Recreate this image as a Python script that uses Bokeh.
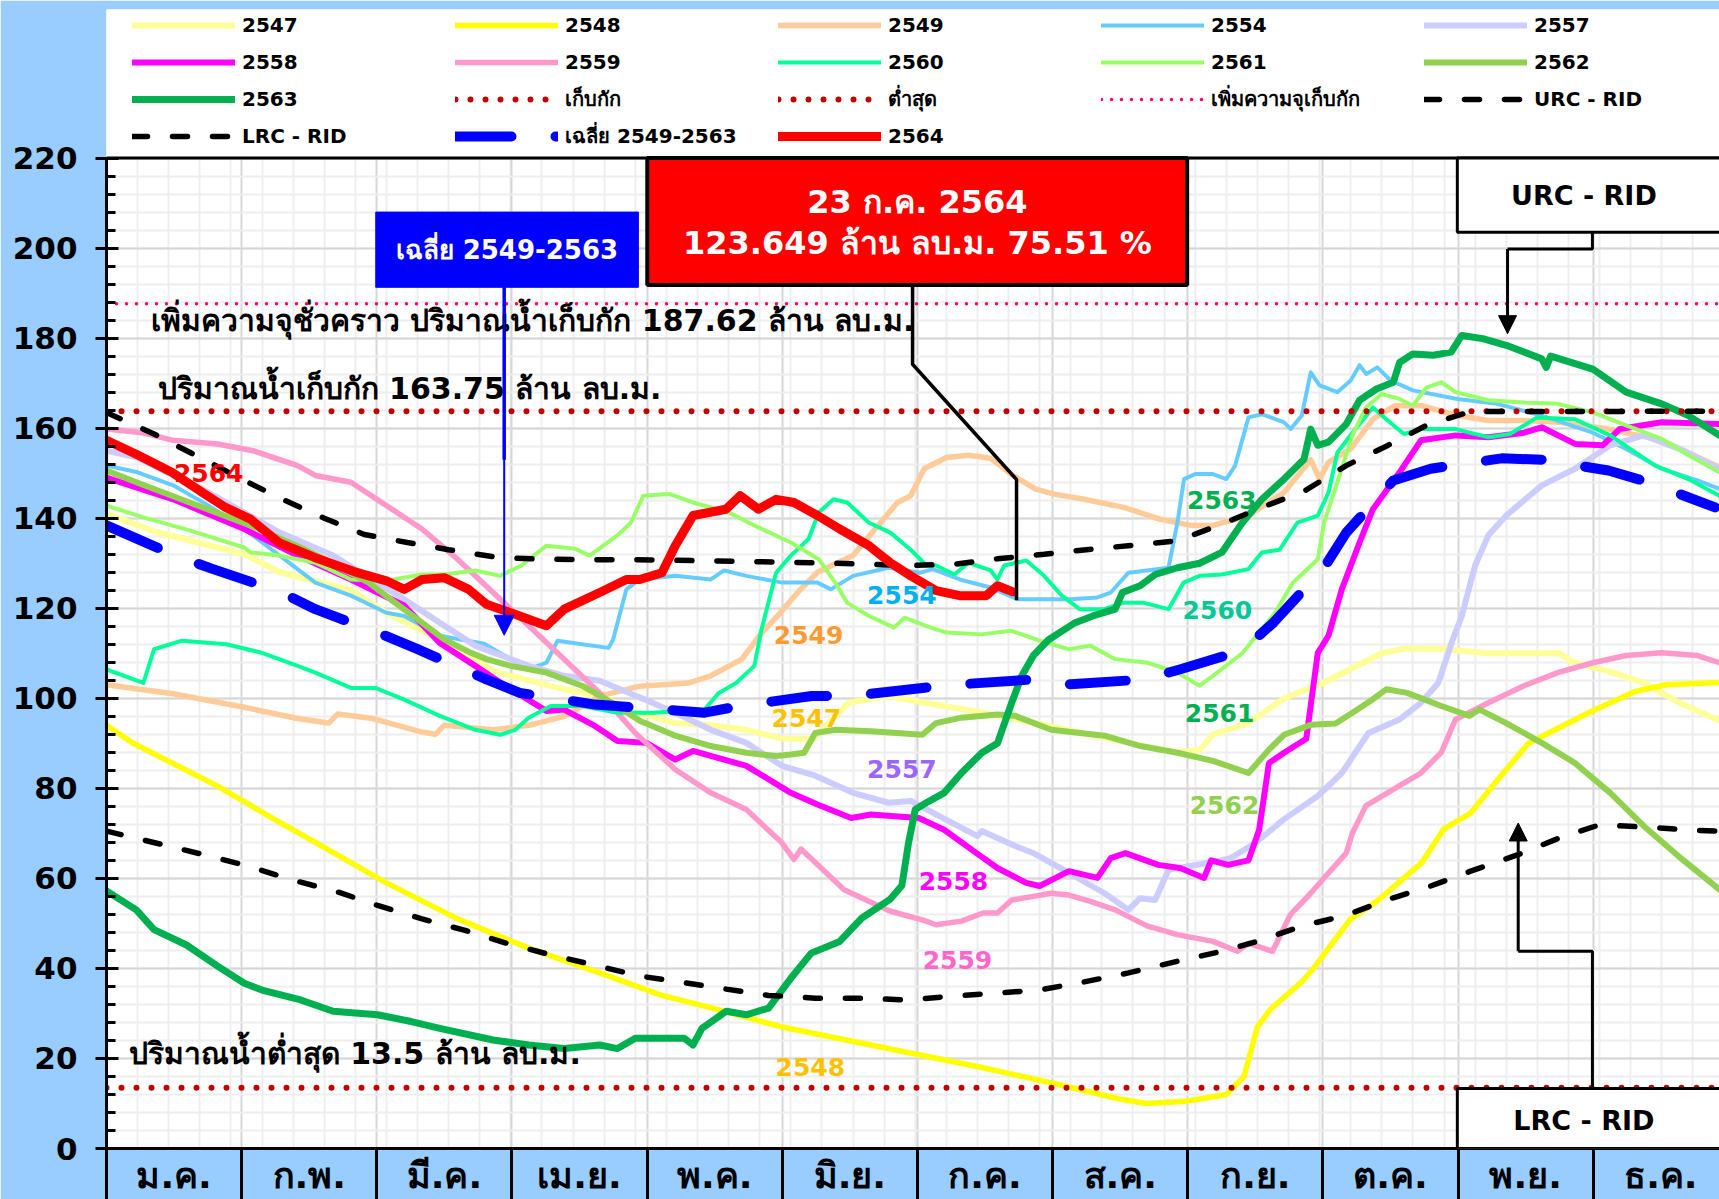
from bokeh.plotting import figure
from bokeh.models import (Range1d, FixedTicker, Legend, LegendItem, BoxAnnotation,
                          Label, Arrow, NormalHead, Span)
from bokeh.embed import file_html
from bokeh.resources import INLINE

# ---------------- data ----------------
MONTH = 365 / 12
months = ["ม.ค.", "ก.พ.", "มี.ค.", "เม.ย.", "พ.ค.", "มิ.ย.", "ก.ค.", "ส.ค.", "ก.ย.", "ต.ค.", "พ.ย.", "ธ.ค."]
y_ticks = list(range(0, 221, 20))

storage_cap = 163.75       # เก็บกัก
min_cap = 13.5             # ต่ำสุด
extra_cap = 187.62         # เพิ่มความจุเก็บกัก

x2547 = [0, 11, 23, 31, 39, 43, 55, 63, 71, 79, 87, 95, 103, 111, 119, 128, 136, 144, 152, 159, 164, 167, 176, 184, 196, 209, 221, 233, 241, 246, 249, 257, 265, 274, 280, 287, 292, 300, 311, 319, 327, 330, 338, 346, 354, 363]
y2547 = [141, 137, 134, 132, 128, 127, 124, 119, 115, 111, 106, 104, 102, 100.5, 97, 94.5, 94, 93, 91, 91, 96, 99, 100.5, 99, 97, 94.5, 92, 89.5, 88, 88.5, 92, 94.5, 100, 103.5, 106.5, 110, 111, 111, 110, 110, 110, 108, 106, 103.5, 99, 95]

x2548 = [0, 6, 25, 38, 47, 63, 79, 95, 111, 125, 137, 152, 167, 182, 197, 213, 228, 234, 243, 252, 256, 259, 262, 269, 272, 280, 286, 296, 301, 307, 314, 320, 326, 334, 344, 351, 363]
y2548 = [94, 90, 80.5, 73, 68, 59, 51, 44.5, 39, 34, 31, 27, 24, 21, 18, 14.5, 11, 10, 10.5, 12, 16, 27, 31, 37, 40.5, 51, 55, 63.5, 71, 74.5, 83, 90, 93, 97, 101.5, 103, 103.5]

x2549 = [0, 15, 31, 43, 50, 52, 60, 71, 74, 76, 87, 95, 103, 111, 120, 131, 136, 143, 147, 151, 156, 160, 168, 173, 178, 181, 184, 189, 194, 199, 204, 209, 213, 220, 229, 237, 244, 249, 257, 265, 271, 273, 275, 280, 285, 290, 296, 304, 311, 319, 327, 338, 350, 363]
y2549 = [103, 101, 98, 95.5, 94.5, 96.5, 95.5, 92.5, 92, 94, 93, 94, 96, 100.5, 102.7, 103.4, 105, 108.7, 114, 118.3, 124, 128, 131.7, 137.6, 143.5, 145, 151, 153.5, 154, 153.3, 149.5, 146.5, 145.4, 144.2, 142.4, 139.8, 138.4, 138.4, 140.6, 145.7, 153, 148.7, 152.4, 155.4, 162, 165, 165, 162.8, 161.7, 161.7, 161.3, 159.8, 157.3, 151.3]

x2554 = [0, 7, 15, 23, 31, 39, 47, 55, 63, 67, 75, 85, 95, 99, 101.5, 105, 113, 114, 117, 120, 128, 136, 139, 144, 152, 160, 163, 168, 176, 183, 186, 192, 199, 205, 217, 223, 226, 230, 239, 241, 242.5, 245, 249, 252, 254, 257, 260, 265, 266.5, 269, 271, 273, 277, 280, 282, 283.5, 286, 289, 294, 304, 313, 323, 334.5, 342, 350, 358, 363]
y2554 = [151.7, 150.2, 147.3, 142.8, 137.6, 131.7, 125.7, 122.8, 119, 118.3, 113.9, 112.1, 106.4, 107.9, 112.8, 112.3, 111.2, 113, 124.2, 126.4, 127.2, 126.4, 128.4, 127.2, 125.7, 125.7, 124.2, 127.2, 129, 127.9, 128.7, 126.4, 124.6, 122, 122, 122.4, 123.5, 127.9, 129, 139, 148.7, 149.8, 149.8, 148.7, 151.7, 162.4, 163.1, 161.3, 159.8, 162.8, 172.4, 169.5, 168, 170.6, 174, 172, 173.5, 170.6, 168.4, 166.5, 165.4, 162.8, 159, 155.4, 151, 148.4, 146.5]

x2557 = [0, 7, 23, 39, 51, 67, 75, 83, 95, 103, 111, 121, 128, 136, 144, 152, 159.5, 168, 176, 181, 189, 196, 197, 204.5, 208.6, 216.6, 224.6, 230, 232.6, 236, 239, 247.8, 253, 258.6, 264.8, 272.6, 278, 284, 291, 295.8, 299.7, 302.7, 305, 308, 311, 315, 323, 330.5, 338.4, 346, 354, 363]
y2557 = [155, 153.5, 145.7, 136.8, 131.7, 122, 116.8, 111.7, 107.2, 105, 103.9, 99.8, 96.8, 93, 90.1, 85, 82.8, 79, 76.8, 77.2, 73, 69.4, 70.5, 67.2, 65.6, 61.2, 56.7, 53, 55.6, 55.2, 61.9, 63.4, 64.5, 67.9, 73, 78.3, 83.4, 92.3, 95.3, 99, 103.4, 112.3, 118.3, 129.5, 136.2, 140.6, 147.3, 151, 156.2, 158.4, 155.4, 151]

x2558 = [0, 15, 31, 43, 55, 67, 75, 83, 91, 99, 103, 110, 115, 121.5, 128, 132, 144, 154, 160, 167.6, 172, 182.8, 188.5, 195.8, 200.5, 207, 210, 216.6, 223, 226, 229.3, 236.7, 241.6, 247, 248.6, 252.4, 257, 259.4, 261.6, 265, 270, 272.6, 275, 278, 282, 285, 291, 295.8, 303.6, 311, 319, 323, 330.5, 336.7, 340.5, 350, 363]
y2558 = [149, 144.2, 137.6, 131.7, 126.4, 120.6, 112.3, 107.2, 102, 97.2, 97.5, 93.8, 90.5, 90.1, 86.4, 88.3, 85, 79, 76.4, 73.4, 74.2, 73.4, 70.8, 65.6, 62.3, 59, 58.3, 61.6, 60.1, 64.5, 65.6, 63, 62.3, 60.1, 64, 63, 64, 70.8, 85.6, 87.9, 91, 110.1, 113.9, 124.2, 134.6, 142, 150.2, 157.3, 158.4, 158, 159, 160.2, 156.5, 156.2, 159.8, 161.3, 160.9]

x2559 = [0, 8, 15, 25, 33, 43, 47, 55, 63, 71, 79, 87, 95, 103, 111, 119, 128, 136, 144, 152, 154.7, 156.3, 166, 176.4, 183.6, 186.7, 192.4, 197.3, 200.5, 203.7, 208.6, 212.6, 216.6, 221.4, 227, 234.3, 241, 249, 254.5, 257, 262.4, 266.4, 271, 275, 279, 280.4, 283.4, 291, 295.8, 300.4, 303.6, 311, 319, 326.6, 334.5, 342, 350, 358, 363]
y2559 = [159.8, 159, 157.3, 156.5, 155, 151.7, 149.5, 148, 142.8, 137.6, 130.9, 123.5, 116.1, 108.7, 101.2, 92.3, 84.2, 79, 75.3, 67.9, 64.2, 66.5, 57.5, 52.7, 50.8, 49.7, 50.5, 52.3, 52.3, 55.2, 56, 56.7, 56.3, 54.9, 53, 49.4, 47.5, 46, 43.8, 45.6, 43.8, 51.9, 56.7, 61.2, 65.6, 70.1, 76.1, 80.6, 83.4, 88, 95.3, 99, 102.8, 105.7, 107.9, 109.5, 110.1, 109.5, 107.9]

x2560 = [0, 8.3, 10.7, 17, 27, 35, 43, 47, 55, 60.5, 67, 75, 83, 88.6, 92, 95, 100, 107, 115, 123, 134.6, 137.8, 141.7, 145.8, 147.4, 150.7, 154, 158, 160.3, 163.6, 166.7, 171.6, 176.4, 181, 184.5, 186.7, 190.8, 194, 199, 200.5, 202, 207, 211, 215, 219, 224.6, 228.6, 233.5, 239, 242.4, 246, 251, 257, 260, 264, 268, 272.6, 275, 277, 280.4, 285, 288, 292, 295.8, 303.6, 311, 315.8, 322, 330.4, 338.4, 348.5, 356, 363]
y2560 = [106.4, 103.4, 110.9, 112.8, 112, 110.1, 107.2, 105.7, 102.3, 102.3, 99.7, 96.1, 93, 91.9, 93, 95.7, 98.3, 98.3, 96.8, 96.8, 97.5, 101.2, 103.4, 107.2, 115.3, 127.9, 131.7, 135.4, 141.3, 144.2, 143.5, 139, 136.8, 133, 129.5, 129.5, 127.5, 130.1, 128.4, 126.4, 129.5, 130.6, 127.2, 122.8, 119.8, 119.8, 121.2, 121.2, 119.8, 125.7, 127.2, 127.5, 128.7, 132.4, 133, 139, 140.6, 145.7, 154.6, 159, 164.6, 162, 158.7, 159.8, 159.8, 158, 158.7, 162.4, 162, 158.4, 151.7, 148.7, 145]

x2561 = [0, 8.3, 18.7, 31, 32.4, 38.8, 47, 55, 63, 71, 76, 83, 88.6, 93.4, 99, 105.5, 108.7, 115, 118, 120.8, 126.6, 132, 140, 145.8, 154, 160.3, 164, 166.7, 171.6, 177.2, 179.6, 184.4, 189, 197, 203.6, 210, 216.6, 221.4, 227, 234.3, 241, 246, 249, 255.6, 259.4, 263, 267, 269.5, 272.6, 274, 277, 280.4, 283.4, 287, 291, 294, 297, 300.4, 303.6, 311, 319, 326.6, 334.5, 342, 350, 356, 363]
y2561 = [142.8, 140.2, 137.3, 133.5, 132.4, 131.7, 130.1, 126.4, 126.1, 127.5, 127.5, 128.4, 127.2, 129.5, 133.9, 133.2, 131.7, 136.2, 139, 145, 145.4, 143.5, 141.3, 138.4, 134.6, 130.9, 125.7, 121.2, 118.3, 115.7, 117.9, 116.1, 114.6, 114.2, 115, 112.8, 110.9, 111.7, 108.7, 107.9, 105.7, 102.8, 105, 110, 114.6, 119, 125.7, 128, 130.9, 139, 148, 158.4, 164.6, 167.6, 166.5, 165, 169, 170.2, 168, 166.2, 165.7, 165.4, 163.5, 160.6, 157.6, 154, 150.2]

x2562 = [0, 6.7, 14.7, 22.7, 32.4, 42.8, 50.8, 59, 65, 71, 76, 82, 85.5, 91, 99, 107, 115, 120, 128, 136, 144, 150.7, 154, 157, 159.5, 164, 172, 183.6, 186.7, 192.4, 200.5, 204.5, 212.6, 224.6, 232.7, 241, 249, 257, 261.6, 265, 271, 276.6, 280.4, 285, 288, 292.7, 300.4, 306.7, 309, 315, 323, 330.5, 338.4, 346, 353.8, 363]
y2562 = [150.6, 148, 145, 142, 138.4, 133.9, 130.1, 125.7, 121.2, 116.8, 113.1, 110.1, 108.7, 107.2, 105.7, 102.8, 98.3, 95, 91.7, 89.4, 87.9, 87.2, 87.5, 87.9, 92.3, 93, 92.7, 91.9, 94.5, 95.7, 96.4, 96.1, 93, 91.7, 89.4, 87.9, 86.1, 83.4, 88.6, 91.9, 94.1, 94.4, 96.8, 99.8, 102, 101.2, 98.3, 96.1, 97.5, 94.5, 90.1, 85.6, 79, 71.6, 64.9, 57.5]

x2563 = [0, 6.7, 10.7, 18, 25, 31, 35, 43.7, 51, 61, 68.6, 75, 87, 95, 103, 111, 115, 119, 124.6, 130, 132, 134, 139.5, 144, 149, 154, 158.6, 165, 170, 176.4, 179, 180.5, 182, 184.5, 188.5, 192.4, 197, 200.5, 203.7, 206, 208.6, 212, 218, 222, 227, 228.6, 232.6, 236, 241, 246, 251, 255.6, 260, 265, 269.5, 271, 272.6, 275, 279, 282, 285.8, 289.6, 291, 294, 298.6, 302.6, 305, 309.7, 315, 323, 324, 325, 334.5, 342, 350, 356, 363]
y2563 = [57.2, 53, 48.6, 45.2, 40.5, 36.7, 35.2, 33, 30.5, 29.7, 28.2, 26.7, 24.1, 23, 22.2, 23, 22.2, 24.5, 24.5, 24.5, 23, 26.7, 30.5, 29.7, 31.2, 37.8, 43.4, 46, 51.2, 55.4, 58.4, 67.9, 75.3, 76.8, 79, 83.4, 87.9, 90, 99, 105, 109.5, 113, 116.8, 118.3, 119.8, 123.5, 125, 127.5, 129, 130, 132.4, 139, 144.2, 148.7, 153.1, 159.8, 156.2, 156.9, 160.9, 166.2, 168.7, 170.2, 174.6, 176.5, 176.2, 176.9, 180.6, 179.9, 178.4, 175.4, 173.5, 176, 173.1, 168, 165.4, 162.8, 158.4]

x2564 = [0, 6.7, 14.7, 22.7, 26.8, 32.4, 38.8, 46.8, 56.5, 63, 67, 71, 76, 81.5, 85.5, 93, 99, 103, 111, 117, 120, 125, 128, 132, 139.4, 142.6, 146.7, 150.7, 154.7, 160, 165, 171.6, 176.4, 181, 186.7, 192, 198, 200.5, 204]
y2564 = [157.3, 154.2, 150.2, 145, 142.4, 139.8, 134.6, 131.3, 127.9, 126.1, 124.2, 126.4, 126.8, 124.2, 120.9, 118.3, 116.1, 119.8, 123.5, 126.4, 126.4, 127.9, 133.9, 140.6, 142, 145, 142, 144.2, 143.5, 140.6, 137.6, 133.9, 130.1, 127.2, 123.9, 122.8, 122.8, 125, 123.649]

x_urc = [0, 10.7, 19.6, 31, 39.6, 49, 58, 67.7, 77, 88, 98, 108.7, 119, 160, 181, 191, 200.5, 211, 220.5, 231, 241, 251, 260, 269.5, 279, 288, 297, 307, 363]
y_urc = [163.5, 158.7, 154.2, 148.4, 144.2, 140, 136.4, 134.6, 133, 131.3, 130.9, 130.8, 130.8, 130.1, 129.5, 129.8, 131, 132, 133, 134, 135, 138.7, 142.4, 146, 151.7, 156, 160.6, 163.7, 163.75]

x_lrc = [0, 13, 23, 32, 42, 52, 61, 71, 80.5, 90, 100, 110, 120, 129, 139.5, 149, 159.5, 170, 180, 190, 200, 210, 220, 230, 241, 251, 259, 269, 279, 288, 298, 307, 317.5, 327, 336, 346, 357, 363]
y_lrc = [70.5, 67.4, 65, 62.7, 59.6, 57, 54, 51, 48.5, 45.6, 43, 40.7, 38.3, 37, 35.4, 34, 33.4, 33.4, 33, 33.8, 34.5, 35.2, 37, 39, 41.6, 43.8, 46, 49.4, 51.8, 55.2, 58.3, 61.6, 65.2, 69, 71.9, 71.4, 70.7, 70.5]

x_avg = [0, 15.5, 24, 39, 47, 62, 70, 85.5, 93, 110, 120, 134.6, 142.6, 158.7, 167.6, 183.6, 192, 208.6, 217, 233.5, 241.5, 255.6, 262.6, 274, 279, 289.6, 298, 314, 323, 338, 347, 362]
y_avg = [138.4, 131.7, 128.7, 123.7, 119.8, 114.2, 110.9, 104.2, 101.2, 98.6, 97.9, 96.8, 98.3, 100.5, 100.5, 102.3, 103.1, 104.2, 103.1, 104.2, 106.4, 110.6, 116.8, 129, 136.8, 148.4, 151, 153.3, 153, 150.6, 148, 142.4]

# ---------------- figure ----------------
X_END = 363
FONT = "DejaVu Sans"
p = figure(width=1719, height=1199, x_range=Range1d(0, X_END), y_range=Range1d(0, 253.0),
           output_backend="svg", toolbar_location=None,
           min_border_left=106, min_border_right=0, min_border_top=9, min_border_bottom=51,
           border_fill_color="#99CCFF", background_fill_color="white", outline_line_color=None)

centers = [(i + 0.5) * MONTH for i in range(12)]
bounds = [i * MONTH for i in range(13)]
p.xaxis.ticker = FixedTicker(ticks=centers, minor_ticks=bounds)
p.xaxis.major_label_overrides = {c: m for c, m in zip(centers, months)}
p.xaxis.major_tick_out = 0
p.xaxis.major_tick_in = 0
p.xaxis.minor_tick_out = 51
p.xaxis.minor_tick_in = 0
p.xaxis.minor_tick_line_color = "black"
p.xaxis.minor_tick_line_width = 3
p.xaxis.axis_line_color = "black"
p.xaxis.axis_line_width = 3
p.xaxis.major_label_text_font = FONT
p.xaxis.major_label_text_font_size = "36px"
p.xaxis.major_label_text_font_style = "bold"
p.xaxis.major_label_text_color = "black"
p.xaxis.major_label_standoff = -45

p.yaxis.ticker = FixedTicker(ticks=y_ticks, minor_ticks=list(range(0, 221, 4)))
p.yaxis.bounds = (0, 220)
p.yaxis.major_tick_in = 12
p.yaxis.major_tick_out = 11
p.yaxis.minor_tick_in = 9
p.yaxis.minor_tick_out = 0
p.yaxis.major_tick_line_color = "black"
p.yaxis.minor_tick_line_color = "black"
p.yaxis.major_tick_line_width = 3
p.yaxis.minor_tick_line_width = 3
p.yaxis.axis_line_color = "black"
p.yaxis.axis_line_width = 3
p.yaxis.major_label_text_font = FONT
p.yaxis.major_label_text_font_size = "31px"
p.yaxis.major_label_text_font_style = "bold"
p.yaxis.major_label_text_color = "black"
p.yaxis.major_label_standoff = 18

p.xgrid.ticker = FixedTicker(ticks=bounds, minor_ticks=[7 * k for k in range(53)])
p.xgrid.grid_line_color = "#D6D6D6"
p.xgrid.grid_line_width = 2
p.xgrid.minor_grid_line_color = "#EEEEEE"
p.xgrid.minor_grid_line_width = 2
p.ygrid.grid_line_color = "#D6D6D6"
p.ygrid.grid_line_width = 2
p.ygrid.minor_grid_line_color = "#EEEEEE"
p.ygrid.minor_grid_line_width = 2

# white area behind the legend
p.add_layout(BoxAnnotation(bottom=220, fill_color="white", fill_alpha=1, line_color=None, level="underlay"))

kw = dict(line_join="round", line_cap="round")
r = {}
r["2547"] = p.line(x2547, y2547, line_color="#FFFF99", line_width=6, **kw)
r["2548"] = p.line(x2548, y2548, line_color="#FFFF00", line_width=5.5, **kw)
r["2549"] = p.line(x2549, y2549, line_color="#FFCC99", line_width=5.5, **kw)
r["2554"] = p.line(x2554, y2554, line_color="#66CCFF", line_width=4, **kw)
r["2557"] = p.line(x2557, y2557, line_color="#CCCCFF", line_width=6, **kw)
r["2558"] = p.line(x2558, y2558, line_color="#FF00FF", line_width=6, **kw)
r["2559"] = p.line(x2559, y2559, line_color="#FF99CC", line_width=5.5, **kw)
r["2560"] = p.line(x2560, y2560, line_color="#00FF99", line_width=4, **kw)
r["2561"] = p.line(x2561, y2561, line_color="#99FF66", line_width=4, **kw)
r["2562"] = p.line(x2562, y2562, line_color="#92D050", line_width=6, **kw)
r["2563"] = p.line(x2563, y2563, line_color="#00B050", line_width=7, **kw)

xr = [0, X_END]
r["cap"] = p.line(xr, [storage_cap] * 2, line_color="#C00000", line_width=6, line_dash="0 15", line_cap="round")
r["min"] = p.line(xr, [min_cap] * 2, line_color="#C00000", line_width=6, line_dash="0 15", line_cap="round")
r["extra"] = p.line(xr, [extra_cap] * 2, line_color="#FF0066", line_width=3.5, line_dash="0 10", line_cap="round")
r["urc"] = p.line(x_urc, y_urc, line_color="black", line_width=5.5, line_dash="15 25", line_cap="round")
r["lrc"] = p.line(x_lrc, y_lrc, line_color="black", line_width=5.5, line_dash="15 25", line_cap="round")
r["avg"] = p.line(x_avg, y_avg, line_color="#0000FF", line_width=10, line_dash="56 44", line_cap="round", line_join="round")
r["2564"] = p.line(x2564, y2564, line_color="#FF0000", line_width=9, **kw)

# top border of the plot area
p.add_layout(Span(location=220, dimension="width", line_color="black", line_width=3))

legend_items = [
    ("2547", "2547"), ("2548", "2548"), ("2549", "2549"), ("2554", "2554"), ("2557", "2557"),
    ("2558", "2558"), ("2559", "2559"), ("2560", "2560"), ("2561", "2561"), ("2562", "2562"),
    ("2563", "2563"), ("เก็บกัก", "cap"), ("ต่ำสุด", "min"), ("เพิ่มความจุเก็บกัก", "extra"), ("URC - RID", "urc"),
    ("LRC - RID", "lrc"), ("เฉลี่ย 2549-2563", "avg"), ("2564", "2564"),
]
legend = Legend(items=[LegendItem(label=lab, renderers=[r[k]]) for lab, k in legend_items],
                location=(26, 996), orientation="horizontal", ncols=5,
                background_fill_alpha=0, border_line_color=None, margin=0, padding=0,
                glyph_width=103, glyph_height=32, label_height=32, label_width=208,
                label_standoff=7, spacing=5,
                label_text_font=FONT, label_text_font_size="20px", label_text_font_style="bold",
                label_text_color="black")
p.add_layout(legend)

# ---------------- annotations ----------------
def lab(x, y, text, color, size, align="center"):
    p.add_layout(Label(x=x, y=y, text=text, text_align=align, text_baseline="middle",
                       text_color=color, text_font=FONT, text_font_size=size,
                       text_font_style="bold"))

lab(10, 184, "เพิ่มความจุชั่วคราว  ปริมาณน้ำเก็บกัก 187.62 ล้าน ลบ.ม.", "black", "30px", "left")
lab(11.5, 168.8, "ปริมาณน้ำเก็บกัก 163.75 ล้าน ลบ.ม.", "black", "30px", "left")
lab(5, 21, "ปริมาณน้ำต่ำสุด 13.5 ล้าน ลบ.ม.", "black", "30px", "left")

# series labels
series_labels = [
    (23, 150, "2564", "#FF0000"), (251, 144, "2563", "#00B050"), (250, 119.7, "2560", "#00C896"),
    (250.5, 96.8, "2561", "#00B050"), (251.6, 76.3, "2562", "#92D050"), (179, 123, "2554", "#00B0F0"),
    (158, 114, "2549", "#FF9933"), (157.5, 95.7, "2547", "#FFC000"), (179, 84.3, "2557", "#9966FF"),
    (190.6, 59.4, "2558", "#FF00FF"), (191.5, 41.8, "2559", "#FF66CC"), (158.4, 18.2, "2548", "#FFC000"),
]
for x, y, t, c in series_labels:
    lab(x, y, t, c, "25px")

# blue average call-out
p.add_layout(BoxAnnotation(left=60.6, right=119.7, bottom=191.3, top=208, fill_color="#0000FF",
                           fill_alpha=1, line_color="#0000FF", line_alpha=1, line_width=1))
lab(90.1, 199.5, "เฉลี่ย 2549-2563", "white", "26px")
p.line([89.5, 89.5], [191.3, 153], line_color="#0000FF", line_width=3.5)
p.add_layout(Arrow(end=NormalHead(size=20, fill_color="#0000FF", line_color="#0000FF"),
                   x_start=89.5, y_start=191.3, x_end=89.5, y_end=114, line_color="#0000FF", line_width=2))

# red call-out for current year
p.line([181.4, 181.4, 204.8, 204.8], [191.8, 174.2, 148.6, 121.8], line_color="black", line_width=3.5)
p.add_layout(BoxAnnotation(left=121.7, right=243.2, bottom=191.8, top=220, fill_color="#FF0000",
                           fill_alpha=1, line_color="black", line_alpha=1, line_width=4))
lab(182.5, 210.3, "23 ก.ค. 2564", "white", "32px")
lab(182.5, 201.2, "123.649 ล้าน ลบ.ม. 75.51 %", "white", "32px")

# URC call-out
p.line([334.4, 334.4, 315.3], [203.5, 199.8, 199.8], line_color="black", line_width=3)
p.add_layout(Arrow(end=NormalHead(size=18, fill_color="black", line_color="black"),
                   x_start=315.3, y_start=199.8, x_end=315.3, y_end=181, line_color="black", line_width=3))
p.add_layout(BoxAnnotation(left=304, right=380, bottom=203.5, top=220, fill_color="white",
                           fill_alpha=1, line_color="black", line_alpha=1, line_width=3))
lab(334.6, 211.6, "URC  -  RID", "black", "27px")

# LRC call-out
p.line([334.4, 334.4, 317.7], [13.3, 43.8, 43.8], line_color="black", line_width=3)
p.add_layout(Arrow(end=NormalHead(size=18, fill_color="black", line_color="black"),
                   x_start=317.7, y_start=43.8, x_end=317.7, y_end=72.3, line_color="black", line_width=3))
p.add_layout(BoxAnnotation(left=304, right=380, bottom=0, top=13.3, fill_color="white",
                           fill_alpha=1, line_color="black", line_alpha=1, line_width=3))
lab(334.6, 6.2, "LRC  -  RID", "black", "27px")

open("out.html", "w").write(file_html(p, INLINE))
